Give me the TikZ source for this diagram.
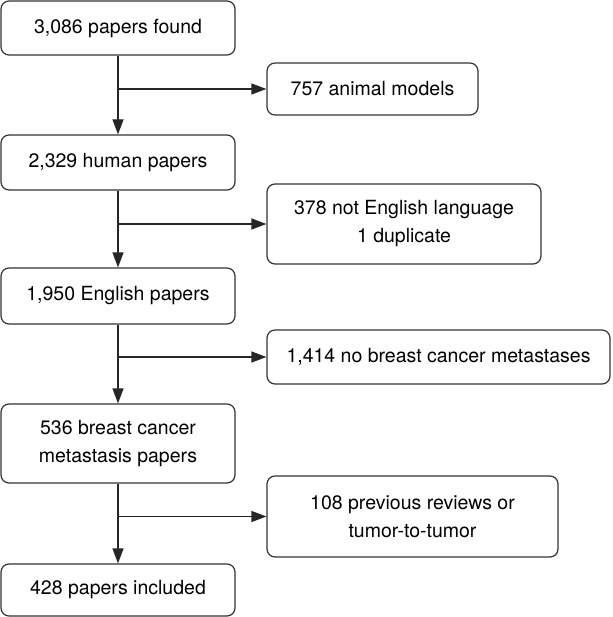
\documentclass[tikz,border=0pt]{standalone}
\usepackage{fontspec}
\setmainfont{TeX Gyre Heros}
\usetikzlibrary{arrows.meta}
\begin{document}
\begin{tikzpicture}[x=1pt,y=-1pt,
    box/.style={draw=black!80, line width=1.2pt, rounded corners=8pt, align=center,
      inner sep=0pt, font=\fontsize{19.5}{28}\selectfont},
    flow/.style={draw=black!85, line width=1.2pt, -{Triangle[length=15pt,width=11pt]}}]
  \useasboundingbox (0,0) rectangle (612,617);
  % main column
  \node[box, minimum width=234pt, minimum height=54pt] (found) at (118,28) {3,086 papers found};
  \node[box, minimum width=234pt, minimum height=55pt] (human) at (118,162.5) {2,329 human papers};
  \node[box, minimum width=234pt, minimum height=56pt] (english) at (118,296) {1,950 English papers};
  \node[box, minimum width=234pt, minimum height=79pt] (meta) at (118,443.5) {536 breast cancer\\metastasis papers};
  \node[box, minimum width=234pt, minimum height=52pt] (incl) at (118,590) {428 papers included};
  % excluded
  \node[box, minimum width=211pt, minimum height=52pt] (animal) at (372.5,89) {757 animal models};
  \node[box, minimum width=274pt, minimum height=80pt] (lang) at (404,224) {378 not English language\\1 duplicate};
  \node[box, minimum width=343pt, minimum height=54pt] (nobc) at (438.5,357) {1,414 no breast cancer metastases};
  \node[box, minimum width=291pt, minimum height=81pt] (rev) at (412.5,516.5) {108 previous reviews or\\tumor-to-tumor};
  % branch points
  \coordinate (j1) at (found.south |- animal.west);
  \coordinate (j2) at (human.south |- lang.west);
  \coordinate (j3) at (english.south |- nobc.west);
  \coordinate (j4) at (meta.south |- rev.west);
  \draw[flow] (found) -- (human);
  \draw[flow] (human) -- (english);
  \draw[flow] (english) -- (meta);
  \draw[flow] (meta) -- (incl);
  \draw[flow] (j1) -- (animal);
  \draw[flow] (j2) -- (lang);
  \draw[flow] (j3) -- (nobc);
  \draw[flow] (j4) -- (rev);
\end{tikzpicture}
\end{document}
